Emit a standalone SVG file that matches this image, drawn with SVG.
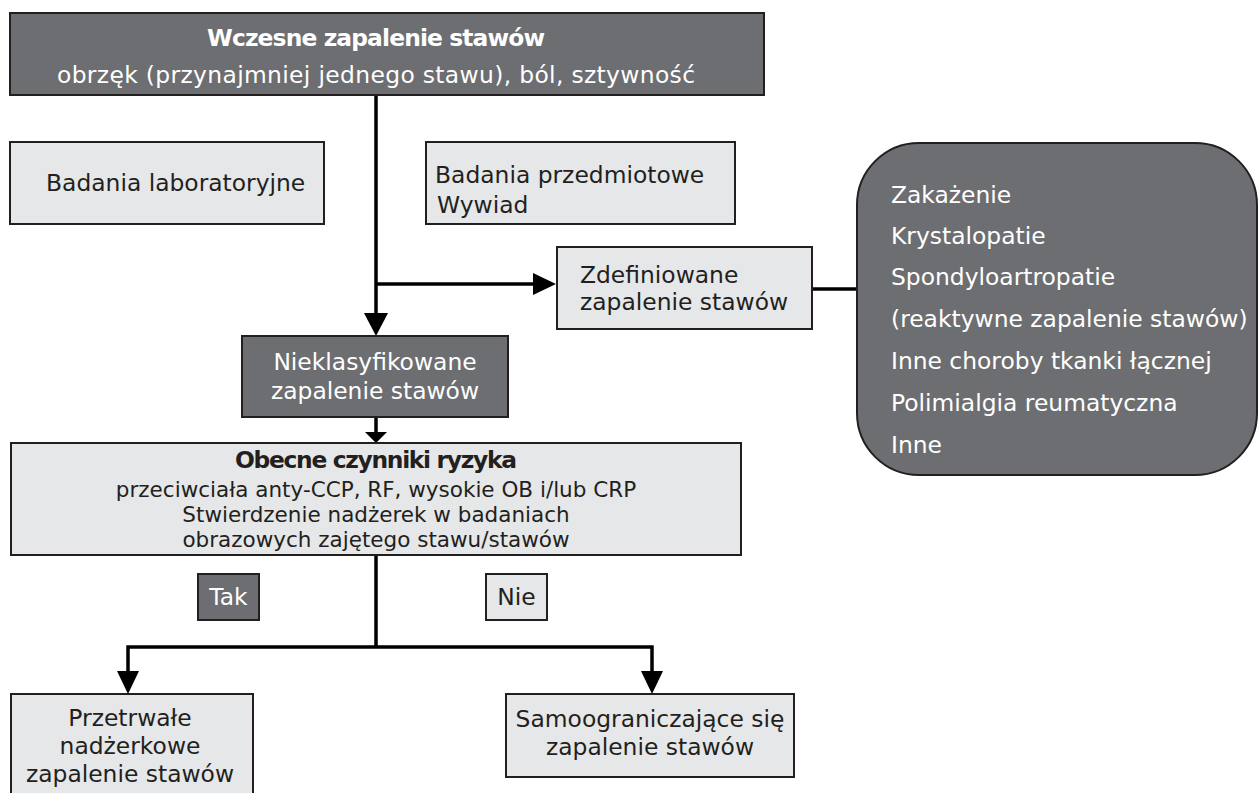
<svg xmlns="http://www.w3.org/2000/svg" width="1258" height="793" viewBox="0 0 1258 793">
<defs>
<style>
.dark{fill:#6d6e71;stroke:#231f20;stroke-width:2}
.light{fill:#e6e7e8;stroke:#231f20;stroke-width:2}
text{font-family:"DejaVu Sans","Noto Sans",sans-serif;font-size:23.4px}
.w{fill:#ffffff}
.k{fill:#231f20}
.c{text-anchor:middle}
.b{font-weight:bold}
.s{font-size:21.5px}
.ln{fill:none;stroke:#000;stroke-width:3.5}
.ah{fill:#000}
</style>
</defs>
<rect width="1258" height="793" fill="#ffffff"/>
<g id="connectors">
<line class="ln" x1="376" y1="95" x2="376" y2="316"/>
<path class="ah" d="M364,313 L388,313 L376,336 Z"/>
<line class="ln" x1="376" y1="284" x2="535" y2="284"/>
<path class="ah" d="M533,273 L556,284 L533,295 Z"/>
<line class="ln" x1="812" y1="289" x2="858" y2="289"/>
<line class="ln" x1="376" y1="417" x2="376" y2="434"/>
<path class="ah" d="M365,432 L387,432 L376,443 Z"/>
<line class="ln" x1="376" y1="555" x2="376" y2="647"/>
<path class="ln" d="M128,674 L128,647 L652,647 L652,674"/>
<path class="ah" d="M117,671 L139,671 L128,694 Z"/>
<path class="ah" d="M641,671 L663,671 L652,694 Z"/>
</g>
<g id="n-top">
<rect class="dark" x="10" y="13" width="754" height="82"/>
<text class="w c b" x="376" y="46" font-size="21" textLength="338">Wczesne zapalenie stawów</text>
<text class="w c" x="376" y="83" font-size="21" textLength="638">obrzęk (przynajmniej jednego stawu), ból, sztywność</text>
</g>
<g id="n-lab">
<rect class="light" x="10" y="142" width="314" height="82"/>
<text class="k" x="46" y="191">Badania laboratoryjne</text>
</g>
<g id="n-przedm">
<rect class="light" x="426" y="142" width="309" height="82"/>
<text class="k" x="435" y="183">Badania przedmiotowe</text>
<text class="k" x="437" y="213">Wywiad</text>
</g>
<g id="n-zdef">
<rect class="light" x="557" y="247" width="255" height="82"/>
<text class="k" x="580" y="283">Zdefiniowane</text>
<text class="k" x="580" y="310">zapalenie stawów</text>
</g>
<g id="n-list">
<rect class="dark" x="857" y="143" width="400" height="332" rx="62" ry="62"/>
<text class="w" x="891" y="203">Zakażenie</text>
<text class="w" x="891" y="244">Krystalopatie</text>
<text class="w" x="891" y="285">Spondyloartropatie</text>
<text class="w" x="891" y="327">(reaktywne zapalenie stawów)</text>
<text class="w" x="891" y="369">Inne choroby tkanki łącznej</text>
<text class="w" x="891" y="411">Polimialgia reumatyczna</text>
<text class="w" x="891" y="453">Inne</text>
</g>
<g id="n-niekl">
<rect class="dark" x="242" y="336" width="266" height="81"/>
<text class="w c" x="375" y="370">Nieklasyfikowane</text>
<text class="w c" x="375" y="399">zapalenie stawów</text>
</g>
<g id="n-ryzyko">
<rect class="light" x="11" y="443" width="730" height="112"/>
<text class="k c b" x="376" y="468" font-size="22" textLength="282">Obecne czynniki ryzyka</text>
<text class="k c s" x="376" y="497">przeciwciała anty-CCP, RF, wysokie OB i/lub CRP</text>
<text class="k c s" x="376" y="522">Stwierdzenie nadżerek w badaniach</text>
<text class="k c s" x="376" y="547">obrazowych zajętego stawu/stawów</text>
</g>
<g id="n-tak">
<rect class="dark" x="198" y="574" width="61" height="46"/>
<text class="w c" x="228.5" y="605">Tak</text>
</g>
<g id="n-nie">
<rect class="light" x="486" y="574" width="61" height="46"/>
<text class="k c" x="516.5" y="605">Nie</text>
</g>
<g id="n-przetr">
<rect class="light" x="11" y="694" width="242" height="110"/>
<text class="k c" x="130" y="726">Przetrwałe</text>
<text class="k c" x="130" y="754">nadżerkowe</text>
<text class="k c" x="130" y="782">zapalenie stawów</text>
</g>
<g id="n-samo">
<rect class="light" x="506" y="694" width="288" height="83"/>
<text class="k c" x="650" y="727">Samoograniczające się</text>
<text class="k c" x="650" y="755">zapalenie stawów</text>
</g>
</svg>
